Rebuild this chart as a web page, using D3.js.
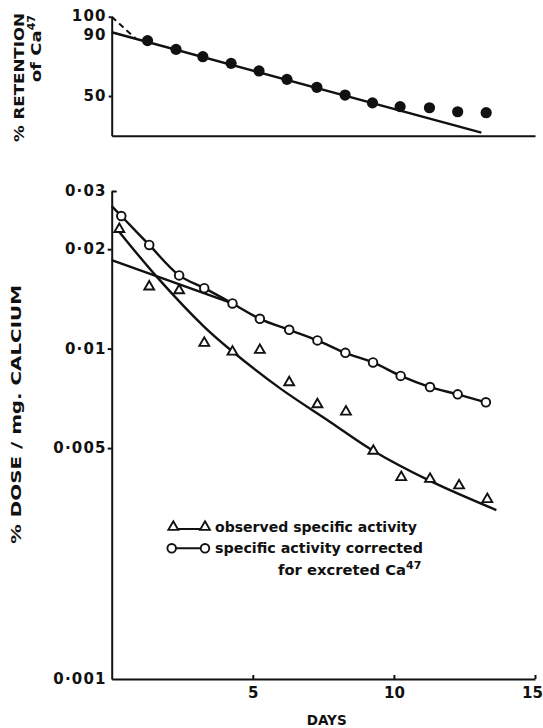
<!DOCTYPE html>
<meta charset="utf-8">
<style>
  body { margin: 0; background: #fff; }
  svg { display: block; }
  text { font-family: "DejaVu Sans", sans-serif; font-weight: bold; fill: #111; }
</style>
<div id="chart"></div>
<script src="https://d3js.org/d3.v7.min.js"></script>
<script>
// top panel: % retention of Ca47
var retDays = [1.27, 2.28, 3.23, 4.23, 5.22, 6.21, 7.27, 8.27, 9.24, 10.22, 11.26, 12.26, 13.27];
var retValues = [84.9, 79.4, 74.8, 70.6, 65.8, 60.5, 55.5, 50.6, 45.7, 43.3, 42.6, 40.1, 39.5];
var retFitDays = [0, 13.1];
var retFitValues = [90.2, 26.9];
var retDashDays = [0, 0.85];
var retDashValues = [100, 86.2];
var retTicks = [50, 90, 100];

// bottom panel: % dose / mg calcium
var obsDays = [0.27, 1.33, 2.39, 3.28, 4.28, 5.25, 6.29, 7.29, 8.3, 9.27, 10.26, 11.28, 12.31, 13.31];
var obsValues = [0.0230, 0.0154, 0.0150, 0.0104, 0.00978, 0.0099, 0.0079, 0.00678, 0.00644, 0.0049, 0.00408, 0.00403, 0.00385, 0.0035];
var obsFitDays = [0.27, 1.6, 3.28, 4.28, 5.97, 7.74, 9.28, 11.3, 13.63];
var obsFitValues = [0.02256, 0.01649, 0.01164, 0.0098, 0.00758, 0.0060, 0.0049, 0.00397, 0.003246];

var corrDays = [0.34, 1.33, 2.39, 3.28, 4.28, 5.25, 6.29, 7.29, 8.28, 9.26, 10.24, 11.28, 12.26, 13.26];
var corrValues = [0.0252, 0.0206, 0.01666, 0.01524, 0.0137, 0.01231, 0.0114, 0.01059, 0.00971, 0.00908, 0.00827, 0.00765, 0.00727, 0.00688];
var corrStartDay = 0, corrStartValue = 0.0270;
var expDays = [0, 4.28];
var expValues = [0.01853, 0.0137];

var doseTicks = [0.001, 0.005, 0.01, 0.02, 0.03];
var dayTicks = [5, 10, 15];

var W = 543, H = 728;
var svg = d3.select("#chart").append("svg").attr("width", W).attr("height", H);

var x = d3.scaleLinear().domain([0, 15]).range([111.7, 535]);
var yRet = d3.scaleLinear().domain([25, 100]).range([135.7, 16.7]);
var yDose = d3.scaleLog().domain([0.001, 0.03]).range([679, 191]);

function styleAxis(g) {
  g.select(".domain").attr("stroke", "#111").attr("stroke-width", 2);
  g.selectAll(".tick line").attr("stroke", "#111").attr("stroke-width", 2);
  g.selectAll(".tick text").style("font-size", "15px").style("letter-spacing", "1.2px")
    .style("font-family", "DejaVu Sans").style("font-weight", "bold").attr("fill", "#111");
}

// ---- top panel ----
var retPanel = svg.append("g");

retPanel.append("g")
    .attr("transform", "translate(0," + yRet.range()[0] + ")")
    .call(d3.axisBottom(x).tickValues([]).tickSizeOuter(0))
    .call(styleAxis);

retPanel.append("g")
    .attr("transform", "translate(" + x(0) + ",0)")
    .call(d3.axisLeft(yRet).tickValues(retTicks).tickSizeInner(3).tickSizeOuter(0).tickPadding(2))
    .call(styleAxis)
    .call(function(g) {
      var t90 = g.selectAll(".tick").filter(function(d) { return d === 90; });
      t90.select("line").remove();
      t90.select("text").attr("dy", "0.45em");
      g.selectAll(".tick").filter(function(d) { return d === 100; }).select("text").attr("dy", "0.22em");
    });

var retLine = d3.line()
    .x(function(d) { return x(d[0]); })
    .y(function(d) { return yRet(d[1]); });

retPanel.append("path")
    .datum(d3.zip(retFitDays, retFitValues))
    .attr("fill", "none").attr("stroke", "#111").attr("stroke-width", 2.4)
    .attr("d", retLine);

retPanel.append("path")
    .datum(d3.zip(retDashDays, retDashValues))
    .attr("fill", "none").attr("stroke", "#111").attr("stroke-width", 2)
    .attr("stroke-dasharray", "6,4")
    .attr("d", retLine);

retPanel.selectAll("circle.ret")
    .data(d3.zip(retDays, retValues))
  .enter().append("circle")
    .attr("class", "ret")
    .attr("cx", function(d) { return x(d[0]); })
    .attr("cy", function(d) { return yRet(d[1]); })
    .attr("r", 5.6)
    .attr("fill", "#111");

retPanel.append("text")
    .attr("transform", "translate(24,13) rotate(-90)")
    .attr("text-anchor", "end")
    .attr("textLength", 129).attr("lengthAdjust", "spacingAndGlyphs")
    .style("font-size", "14px")
    .text("% RETENTION");

var sub = retPanel.append("text")
    .attr("transform", "translate(41,15) rotate(-90)")
    .attr("text-anchor", "end")
    .style("font-size", "14px");
sub.append("tspan").attr("textLength", 52).attr("lengthAdjust", "spacingAndGlyphs").text("of Ca");
sub.append("tspan").attr("dy", -6).style("font-size", "11px").text("47");

// ---- bottom panel ----
var dosePanel = svg.append("g");

dosePanel.append("g")
    .attr("transform", "translate(0," + yDose.range()[0] + ")")
    .call(d3.axisBottom(x).tickValues(dayTicks).tickSizeInner(-4).tickSizeOuter(0).tickPadding(8))
    .call(styleAxis)
    .call(function(g) {
      g.selectAll(".tick text").style("letter-spacing", "0px");
      g.selectAll(".tick").filter(function(d) { return d === 15; }).select("text").attr("dx", -3);
    });

dosePanel.append("g")
    .attr("transform", "translate(" + x(0) + ",0)")
    .call(d3.axisLeft(yDose).tickValues(doseTicks).tickSizeInner(4).tickSizeOuter(0).tickPadding(1)
      .tickFormat(function(d) { return String(+d.toFixed(3)).replace(".", "\u00b7"); }))
    .call(styleAxis)
    .call(function(g) {
      // top tick hooks inward
      g.selectAll(".tick").filter(function(d) { return d === 0.03; }).select("line").attr("x2", 5);
      g.selectAll(".tick").filter(function(d) { return d === 0.001; }).select("line").remove();
    });

var doseLine = d3.line()
    .x(function(d) { return x(d[0]); })
    .y(function(d) { return yDose(d[1]); });

dosePanel.append("path")
    .datum(d3.zip(expDays, expValues))
    .attr("fill", "none").attr("stroke", "#111").attr("stroke-width", 2.4)
    .attr("d", doseLine);

dosePanel.append("path")
    .datum([[corrStartDay, corrStartValue]].concat(d3.zip(corrDays, corrValues)))
    .attr("fill", "none").attr("stroke", "#111").attr("stroke-width", 2.4)
    .attr("d", doseLine.curve(d3.curveCatmullRom.alpha(0.5)));

dosePanel.append("path")
    .datum(d3.zip(obsFitDays, obsFitValues))
    .attr("fill", "none").attr("stroke", "#111").attr("stroke-width", 2.4)
    .attr("d", doseLine.curve(d3.curveCatmullRom.alpha(0.5)));

dosePanel.selectAll("circle.corr")
    .data(d3.zip(corrDays, corrValues))
  .enter().append("circle")
    .attr("class", "corr")
    .attr("cx", function(d) { return x(d[0]); })
    .attr("cy", function(d) { return yDose(d[1]); })
    .attr("r", 4.3)
    .attr("fill", "#fff").attr("stroke", "#111").attr("stroke-width", 1.9);

var tri = d3.symbol().type(d3.symbolTriangle).size(42);

dosePanel.selectAll("path.obs")
    .data(d3.zip(obsDays, obsValues))
  .enter().append("path")
    .attr("class", "obs")
    .attr("transform", function(d) { return "translate(" + x(d[0]) + "," + yDose(d[1]) + ")"; })
    .attr("d", tri)
    .attr("fill", "#fff").attr("stroke", "#111").attr("stroke-width", 1.9);

dosePanel.append("text")
    .attr("transform", "translate(21,544) rotate(-90)")
    .attr("text-anchor", "start")
    .attr("textLength", 259).attr("lengthAdjust", "spacingAndGlyphs")
    .style("font-size", "14.5px")
    .text("% DOSE / mg. CALCIUM");

dosePanel.append("text")
    .attr("x", 326.7).attr("y", 725)
    .attr("text-anchor", "middle")
    .attr("textLength", 40).attr("lengthAdjust", "spacingAndGlyphs")
    .style("font-size", "14px")
    .text("DAYS");

// legend
var leg = dosePanel.append("g");
leg.append("line").attr("x1", 173.3).attr("x2", 205).attr("y1", 529).attr("y2", 529)
    .attr("stroke", "#111").attr("stroke-width", 2);
leg.selectAll("path.lt").data([173.3, 205]).enter().append("path")
    .attr("transform", function(d) { return "translate(" + d + ",527)"; })
    .attr("d", tri).attr("fill", "#fff").attr("stroke", "#111").attr("stroke-width", 1.9);
leg.append("line").attr("x1", 171.7).attr("x2", 205).attr("y1", 548.3).attr("y2", 548.3)
    .attr("stroke", "#111").attr("stroke-width", 2);
leg.selectAll("circle.lc").data([171.7, 205]).enter().append("circle")
    .attr("cx", function(d) { return d; }).attr("cy", 548.3).attr("r", 4.3)
    .attr("fill", "#fff").attr("stroke", "#111").attr("stroke-width", 1.9);

leg.append("text").attr("x", 215).attr("y", 531.7)
    .attr("textLength", 202).attr("lengthAdjust", "spacingAndGlyphs")
    .style("font-size", "14px").text("observed specific activity");
leg.append("text").attr("x", 215).attr("y", 553.3)
    .attr("textLength", 208).attr("lengthAdjust", "spacingAndGlyphs")
    .style("font-size", "14px").text("specific activity corrected");
var l3 = leg.append("text").attr("x", 278).attr("y", 575)
    .style("font-size", "14px");
l3.append("tspan").attr("textLength", 128).attr("lengthAdjust", "spacingAndGlyphs").text("for excreted Ca");
l3.append("tspan").attr("dy", -6).style("font-size", "11px").text("47");
</script>
